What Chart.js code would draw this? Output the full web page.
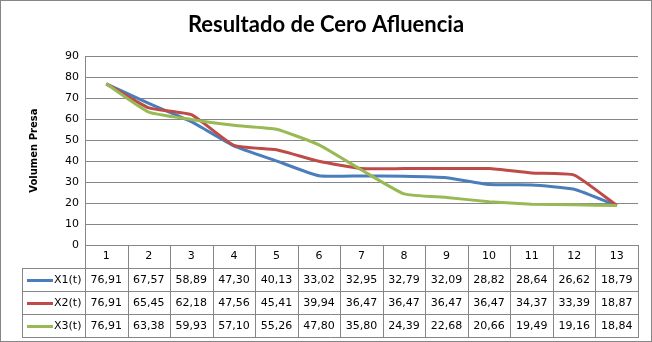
<!DOCTYPE html>
<html>
<head>
<meta charset="utf-8">
<script src="https://cdn.jsdelivr.net/npm/chart.js@4"></script>
<style>
  html, body { margin: 0; padding: 0; background: #fff; }
  #wrap { width: 652px; height: 342px; }
</style>
</head>
<body>
<div id="wrap"><canvas id="chart" width="652" height="342"></canvas></div>
<script>
const categories = ['1', '2', '3', '4', '5', '6', '7', '8', '9', '10', '11', '12', '13'];
const seriesNames = ['X1(t)', 'X2(t)', 'X3(t)'];
const x1 = [76.91, 67.57, 58.89, 47.30, 40.13, 33.02, 32.95, 32.79, 32.09, 28.82, 28.64, 26.62, 18.79];
const x2 = [76.91, 65.45, 62.18, 47.56, 45.41, 39.94, 36.47, 36.47, 36.47, 36.47, 34.37, 33.39, 18.87];
const x3 = [76.91, 63.38, 59.93, 57.10, 55.26, 47.80, 35.80, 24.39, 22.68, 20.66, 19.49, 19.16, 18.84];
const yTicks = [0, 10, 20, 30, 40, 50, 60, 70, 80, 90];

const colors = ['#4a7ebb', '#be4b48', '#98b954'];
const gray = '#868686';
const font = 'DejaVu Sans';

const fmt = v => v.toFixed(2).replace('.', ',');

// data table under the plot, laid out on the x scale
const dataTable = {
    id: 'dataTable',
    afterDraw(chart) {
        const ctx = chart.ctx;
        const xs = chart.scales.x;
        const area = chart.chartArea;
        const rows = [x1, x2, x3];
        const rowH = 23;
        const headTop = area.bottom;
        const bodyTop = headTop + 23;
        const labelLeft = 22;
        const n = categories.length;
        const step = (area.right - area.left) / n;

        ctx.save();
        ctx.strokeStyle = gray;
        ctx.lineWidth = 1;
        ctx.beginPath();
        for (let i = 0; i <= n; i++) {
            const x = Math.round(area.left + i * step) + 0.5;
            ctx.moveTo(x, headTop);
            ctx.lineTo(x, bodyTop + rows.length * rowH);
        }
        ctx.moveTo(labelLeft + 0.5, bodyTop);
        ctx.lineTo(labelLeft + 0.5, bodyTop + rows.length * rowH);
        for (let r = 0; r <= rows.length; r++) {
            const y = bodyTop + r * rowH + 0.5;
            ctx.moveTo(labelLeft, y);
            ctx.lineTo(Math.round(area.right) + 1, y);
        }
        ctx.stroke();

        ctx.font = '11px "' + font + '"';
        ctx.fillStyle = '#000';
        ctx.textBaseline = 'middle';
        rows.forEach((vals, r) => {
            const cy = bodyTop + r * rowH + rowH / 2 + 1;
            // legend key
            ctx.strokeStyle = colors[r];
            ctx.lineWidth = 3;
            ctx.beginPath();
            ctx.moveTo(27, cy);
            ctx.lineTo(53, cy);
            ctx.stroke();
            ctx.textAlign = 'left';
            ctx.fillText(seriesNames[r], 54, cy);
            ctx.textAlign = 'center';
            vals.forEach((v, i) => {
                ctx.fillText(fmt(v), xs.getPixelForValue(i), cy);
            });
        });

        // outer border
        ctx.strokeStyle = gray;
        ctx.lineWidth = 1;
        ctx.strokeRect(0.5, 0.5, chart.width - 1, chart.height - 1);
        ctx.restore();
    }
};

new Chart(document.getElementById('chart'), {
    type: 'line',
    data: {
        labels: categories,
        datasets: [
            { label: seriesNames[0], data: x1, borderColor: colors[0], order: 2 },
            { label: seriesNames[1], data: x2, borderColor: colors[1], order: 1 },
            { label: seriesNames[2], data: x3, borderColor: colors[2], order: 0 }
        ]
    },
    options: {
        responsive: false,
        animation: false,
        layout: { padding: 0 },
        elements: {
            line: { borderWidth: 3, tension: 0.15, fill: false },
            point: { radius: 0 }
        },
        plugins: {
            legend: { display: false },
            tooltip: { enabled: false },
            title: {
                display: true,
                text: 'Resultado de Cero Afluencia',
                color: '#000',
                font: { family: 'Lato', size: 22, weight: 'bold' },
                padding: { top: 12, bottom: 18 }
            }
        },
        scales: {
            x: {
                offset: true,
                grid: { display: false, drawTicks: false },
                border: { display: false },
                ticks: { color: '#000', font: { family: font, size: 11 }, padding: 5, maxRotation: 0 },
                afterFit: s => { s.height = 97; }
            },
            y: {
                min: 0,
                max: 90,
                afterBuildTicks: s => { s.ticks = yTicks.map(v => ({ value: v })); },
                grid: { color: gray, drawTicks: false },
                border: { color: gray },
                ticks: { color: '#000', font: { family: font, size: 11 }, padding: 6 },
                title: {
                    display: true,
                    text: 'Volumen Presa',
                    color: '#000',
                    font: { family: font, size: 10, weight: 'bold' },
                    padding: { top: 28, bottom: 0 }
                },
                afterFit: s => { s.width = 85; }
            },
            // empty right-hand axis, only reserves the margin
            yRight: {
                position: 'right',
                grid: { display: false, drawTicks: false },
                border: { display: false },
                ticks: { display: false },
                afterFit: s => { s.width = 14; }
            }
        }
    },
    plugins: [dataTable]
});
</script>
</body>
</html>
